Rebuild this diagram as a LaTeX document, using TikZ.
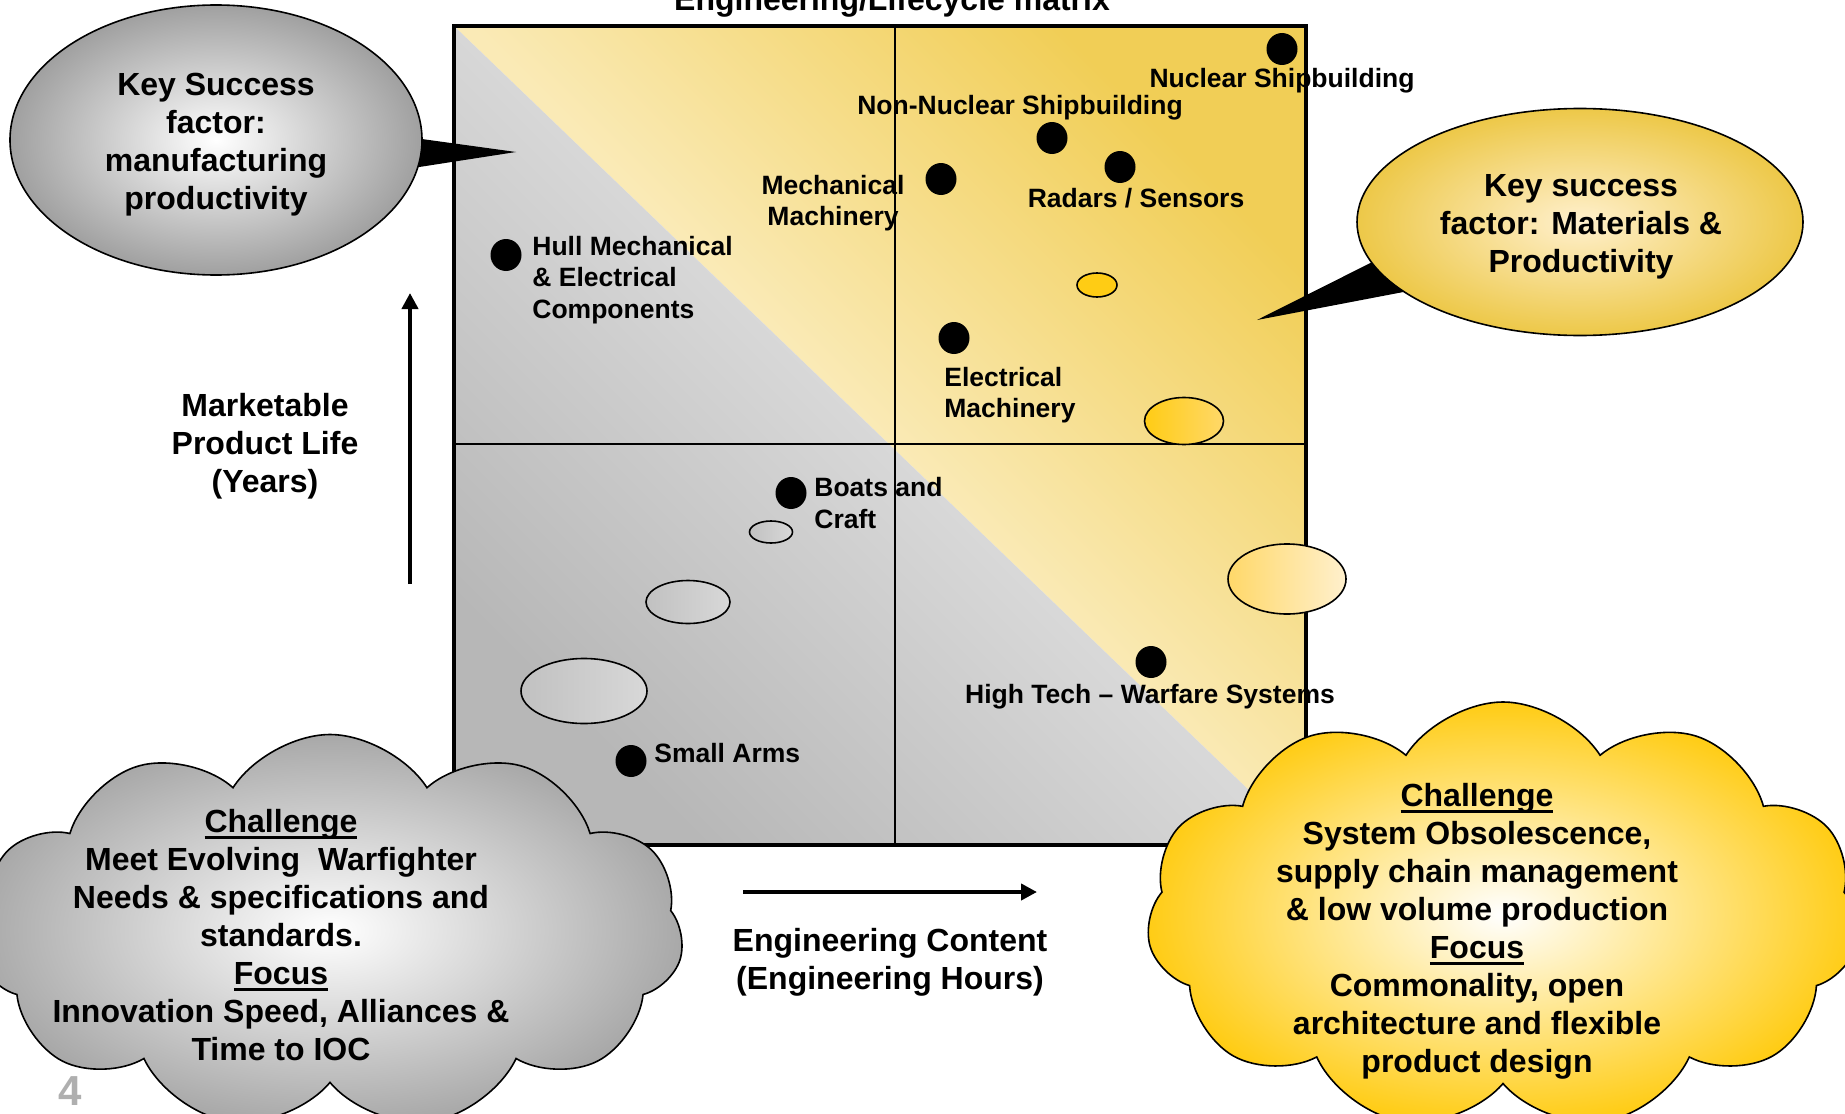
\documentclass[tikz,border=0pt]{standalone}
\usepackage{fontspec}
\setmainfont{Liberation Sans}
\usetikzlibrary{shapes.geometric,shapes.symbols,arrows.meta}

\definecolor{yeldeep}{RGB}{241,206,86}
\definecolor{yelpale}{RGB}{250,234,182}
\definecolor{greydark}{RGB}{183,183,183}
\definecolor{greylight}{RGB}{216,216,216}
\definecolor{gold}{RGB}{255,204,20}
\definecolor{goldlight}{RGB}{255,216,105}
\definecolor{goldpale}{RGB}{255,240,205}
\definecolor{cloudgrey}{RGB}{168,168,168}
\definecolor{bubblegrey}{RGB}{160,160,160}
\definecolor{bubblegold}{RGB}{237,200,72}
\definecolor{pagenum}{RGB}{175,175,175}

\newcommand{\bigtxt}{\fontsize{16}{19}\selectfont\bfseries}
\newcommand{\smalltxt}{\fontsize{13.25}{15.75}\selectfont\bfseries}
\newsavebox{\ulbox}
\newcommand{\ulhead}[1]{\sbox{\ulbox}{#1}\rlap{\rule[-3.2pt]{\wd\ulbox}{1.2pt}}\usebox{\ulbox}}

\begin{document}
\begin{tikzpicture}[x=0.5pt,y=-0.5pt,
	blackdot/.style={ellipse,fill=black,inner sep=0pt,minimum width=15.5pt,minimum height=16pt},
	dotlabel/.style={font=\smalltxt,inner sep=0pt,align=left},
	ringgrey/.style={ellipse,draw=black,line width=0.8pt,inner sep=0pt,left color=greydark!70!greylight,right color=greylight},
	ringgold/.style={ellipse,draw=black,line width=0.8pt,inner sep=0pt},
	bubble/.style={ellipse,draw=black,line width=0.8pt,inner sep=0pt},
	puffy/.style={cloud,cloud puffs=11,cloud puff arc=115,cloud ignores aspect,draw=black,line width=0.8pt,inner sep=0pt},
	bodytext/.style={font=\bigtxt,align=center,inner sep=0pt},
	axisarrow/.style={line width=2.2pt,-{Triangle[length=8pt,width=8pt]}}]
	\useasboundingbox (0,0) rectangle (1845,1113);

	\shade[left color=yeldeep,right color=yelpale,middle color=yelpale,shading angle=-45] (454,26) -- (1306,26) -- (1306,845) -- cycle;
	\shade[left color=greylight,right color=greydark,middle color=greylight,shading angle=-45] (454,26) -- (454,845) -- (1306,845) -- cycle;
	\draw[line width=1pt] (895,26) -- (895,845);
	\draw[line width=1pt] (454,444) -- (1306,444);
	\draw[line width=1.8pt] (454,26) rectangle (1306,845);

	\node[ringgold,fill=gold,minimum width=20pt,minimum height=12pt] (ringa) at (1097,285) {};
	\node[ringgold,left color=gold,right color=goldlight,minimum width=39.5pt,minimum height=23.5pt] (ringb) at (1184,421) {};
	\node[ringgold,left color=goldlight,right color=goldpale,minimum width=59pt,minimum height=35pt] (ringc) at (1287,579) {};
	\node[ringgrey,minimum width=21.5pt,minimum height=11pt] (ringd) at (771,532) {};
	\node[ringgrey,minimum width=42pt,minimum height=21.5pt] (ringe) at (688,602) {};
	\node[ringgrey,minimum width=63pt,minimum height=32.5pt] (ringf) at (584,691) {};

	\node[blackdot] (nuc) at (1282,49) {};
	\node[blackdot] (nonnuc) at (1052,138) {};
	\node[blackdot] (radar) at (1120,167) {};
	\node[blackdot] (mech) at (941,179) {};
	\node[blackdot] (hull) at (506,255) {};
	\node[blackdot] (elec) at (954,338) {};
	\node[blackdot] (boats) at (791,493) {};
	\node[blackdot] (hitech) at (1151,662) {};
	\node[blackdot] (arms) at (631,761) {};

	\node[dotlabel,anchor=base] (nuclbl) at (1282,88) {Nuclear Shipbuilding};
	\node[dotlabel,anchor=base] (nonnuclbl) at (1020,114) {Non-Nuclear Shipbuilding};
	\node[dotlabel,anchor=base] (radarlbl) at (1136,207) {Radars / Sensors};
	\node[dotlabel,align=center] (mechlbl) at (833,203) {Mechanical\\Machinery};
	\node[dotlabel,anchor=west] (hulllbl) at (532,280) {Hull Mechanical\\\& Electrical\\Components};
	\node[dotlabel,anchor=west] (eleclbl) at (944,395) {Electrical\\Machinery};
	\node[dotlabel,anchor=west] (boatslbl) at (814,503) {Boats and\\Craft};
	\node[dotlabel,anchor=base] (hitechlbl) at (1150,703) {High Tech \textendash{} Warfare Systems};
	\node[dotlabel,anchor=base west] (armslbl) at (654,762) {Small Arms};

	\coordinate (ksftip) at (516,152);
	\fill (400,136) -- (ksftip) -- (400,170) -- cycle;
	\node[bubble,inner color=white,outer color=bubblegrey,minimum width=206pt,minimum height=135pt] (ksfgrey) at (216,140) {};
	\node[bodytext] (ksftext) at (216,145) {Key Success\\factor:\\manufacturing\\productivity};

	\coordinate (ksmtip) at (1257,320);
	\fill (1420,238) -- (ksmtip) -- (1440,285) -- cycle;
	\node[bubble,inner color=goldpale,outer color=bubblegold,minimum width=223pt,minimum height=113.5pt] (ksmgold) at (1580,222) {};
	\node[bodytext] (ksmtext) at (1581,227) {Key success\\factor: Materials \&\\Productivity};

	\node[puffy,inner color=white,outer color=cloudgrey,minimum width=353.5pt,minimum height=197.5pt] (leftcloud) at (330,932) {};
	\node[bodytext] (lefttext) at (281,935) {\ulhead{Challenge}\\Meet Evolving\ \ Warfighter\\Needs \& specifications and\\standards.\\\ulhead{Focus}\\Innovation Speed, Alliances \&\\Time to IOC};

	\node[puffy,inner color=white,outer color=gold,minimum width=356.5pt,minimum height=214pt] (rightcloud) at (1503,916) {};
	\node[bodytext] (righttext) at (1477,931) {\ulhead{Challenge}\\System Obsolescence,\\supply chain management\\\& low volume production\\\ulhead{Focus}\\Commonality, open\\architecture and flexible\\product design};

	\coordinate (ylow) at (410,584);
	\coordinate (yhigh) at (410,293);
	\draw[axisarrow] (ylow) -- (yhigh);
	\node[bodytext] (ylabel) at (265,446) {Marketable\\Product Life\\(Years)};

	\coordinate (xlow) at (743,892);
	\coordinate (xhigh) at (1037,892);
	\draw[axisarrow] (xlow) -- (xhigh);
	\node[bodytext] (xlabel) at (890,962) {Engineering Content\\(Engineering Hours)};

	\node[bodytext,anchor=base] (title) at (892,11) {Engineering/Lifecycle matrix};
	\node[font=\fontsize{21}{25}\selectfont\bfseries,text=pagenum,anchor=base,inner sep=0pt] (pageno) at (70,1105) {4};
\end{tikzpicture}
\end{document}
